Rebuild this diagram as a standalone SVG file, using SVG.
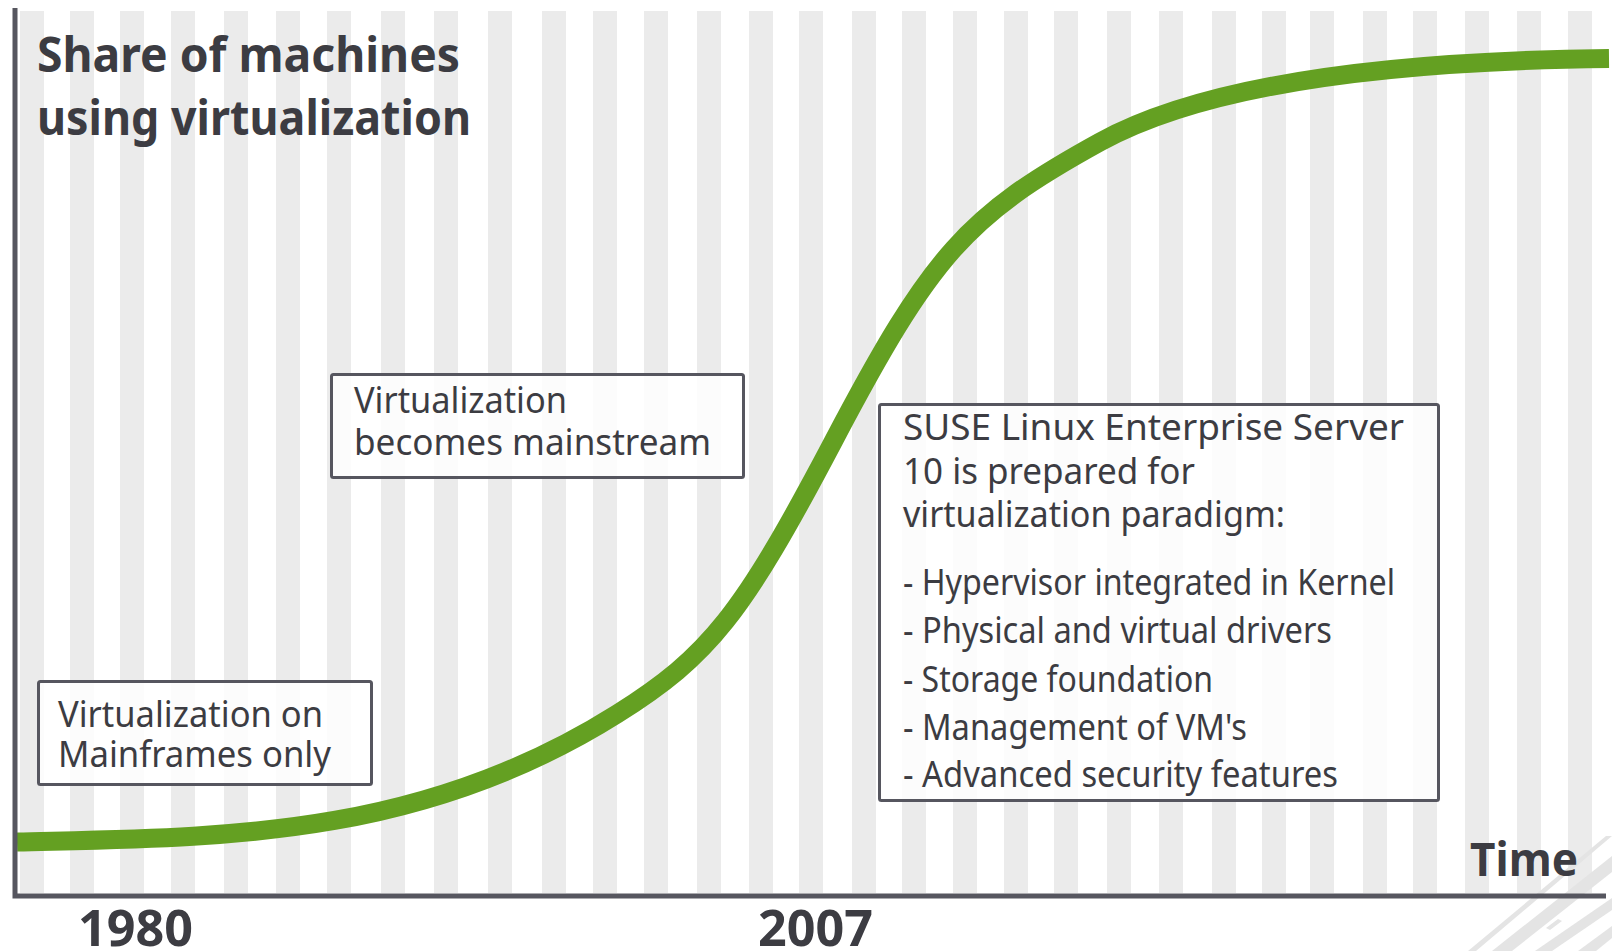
<svg xmlns="http://www.w3.org/2000/svg" width="1612" height="951" viewBox="0 0 1612 951">
<style>
.stripe{fill:#ebebeb}
.axis{stroke:#56565f;stroke-width:5;fill:none}
.box{fill:#ffffff;fill-opacity:0.82;stroke:#56565f;stroke-width:3}
.t{font-family:"Noto Sans","Open Sans","DejaVu Sans",sans-serif;fill:#3c3c42}
.reg{font-size:37px}
.bold{font-weight:bold}
.wm{fill:#e4e4e4}
</style>
<rect width="1612" height="951" fill="#ffffff"/>
<g id="stripes">
<rect class="stripe" x="20" y="11" width="24" height="882"/>
<rect class="stripe" x="70" y="11" width="24" height="882"/>
<rect class="stripe" x="120" y="11" width="24" height="882"/>
<rect class="stripe" x="171" y="11" width="24" height="882"/>
<rect class="stripe" x="224" y="11" width="24" height="882"/>
<rect class="stripe" x="276" y="11" width="24" height="882"/>
<rect class="stripe" x="327" y="11" width="24" height="882"/>
<rect class="stripe" x="381" y="11" width="24" height="882"/>
<rect class="stripe" x="434" y="11" width="24" height="882"/>
<rect class="stripe" x="488" y="11" width="24" height="882"/>
<rect class="stripe" x="542" y="11" width="24" height="882"/>
<rect class="stripe" x="593" y="11" width="24" height="882"/>
<rect class="stripe" x="644" y="11" width="24" height="882"/>
<rect class="stripe" x="697" y="11" width="24" height="882"/>
<rect class="stripe" x="749" y="11" width="24" height="882"/>
<rect class="stripe" x="799" y="11" width="24" height="882"/>
<rect class="stripe" x="852" y="11" width="24" height="882"/>
<rect class="stripe" x="902" y="11" width="24" height="882"/>
<rect class="stripe" x="953" y="11" width="24" height="882"/>
<rect class="stripe" x="1004" y="11" width="24" height="882"/>
<rect class="stripe" x="1054" y="11" width="24" height="882"/>
<rect class="stripe" x="1107" y="11" width="24" height="882"/>
<rect class="stripe" x="1159" y="11" width="24" height="882"/>
<rect class="stripe" x="1212" y="11" width="24" height="882"/>
<rect class="stripe" x="1262" y="11" width="24" height="882"/>
<rect class="stripe" x="1310" y="11" width="24" height="882"/>
<rect class="stripe" x="1363" y="11" width="24" height="882"/>
<rect class="stripe" x="1413" y="11" width="24" height="882"/>
<rect class="stripe" x="1465" y="11" width="24" height="882"/>
<rect class="stripe" x="1517" y="11" width="24" height="882"/>
<rect class="stripe" x="1568" y="11" width="24" height="882"/>
</g>
<g id="watermark">
<polygon class="wm" points="1468,951 1476,951 1612,836 1606,836"/>
<polygon class="wm" points="1492,951 1512,951 1612,872 1612,856"/>
<polygon class="wm" points="1535,951 1552,951 1612,910 1612,898"/>
<polygon class="wm" points="1578,951 1596,951 1612,938 1612,926"/>
<polygon class="wm" points="1546,928 1550,930 1562,921 1558,919"/>
</g>
<g id="connectors">
<path id="curve" d="M17,842 C217,837 417,840 617,714 C709.7,655.6 742,614.8 833,442 C931.7,254.5 966.4,215.5 1100,142 C1196.7,88.8 1366.3,61 1609,58.5" fill="none" stroke="#64a022" stroke-width="19"/>
</g>
<g id="axes">
<path class="axis" d="M15,8 L15,896 L1606,896"/>
</g>
<g id="title">
<text class="t bold" x="37" y="72" font-size="48" textLength="423" lengthAdjust="spacingAndGlyphs">Share of machines</text>
<text class="t bold" x="37" y="135" font-size="48" textLength="434" lengthAdjust="spacingAndGlyphs">using virtualization</text>
</g>
<g id="axis-labels">
<text class="t bold" x="78" y="946" font-size="50" textLength="115" lengthAdjust="spacingAndGlyphs">1980</text>
<text class="t bold" x="758" y="946" font-size="50" textLength="115" lengthAdjust="spacingAndGlyphs">2007</text>
<text class="t bold" x="1470" y="876" font-size="46" textLength="108" lengthAdjust="spacingAndGlyphs">Time</text>
</g>
<g id="box-mainframes">
<rect class="box" x="38.5" y="681.5" width="333" height="103" rx="2"/>
<text class="t reg" x="58" y="727" textLength="265" lengthAdjust="spacingAndGlyphs">Virtualization on</text>
<text class="t reg" x="58" y="767" textLength="273" lengthAdjust="spacingAndGlyphs">Mainframes only</text>
</g>
<g id="box-mainstream">
<rect class="box" x="331.5" y="374.5" width="412" height="103" rx="2"/>
<text class="t reg" x="354" y="413" textLength="213" lengthAdjust="spacingAndGlyphs">Virtualization</text>
<text class="t reg" x="354" y="455" textLength="357" lengthAdjust="spacingAndGlyphs">becomes mainstream</text>
</g>
<g id="box-suse">
<rect class="box" x="879.5" y="404.5" width="559" height="396" rx="2"/>
<text class="t reg" x="903" y="440" textLength="501" lengthAdjust="spacingAndGlyphs">SUSE Linux Enterprise Server</text>
<text class="t reg" x="903" y="484" textLength="292" lengthAdjust="spacingAndGlyphs">10 is prepared for</text>
<text class="t reg" x="903" y="527" textLength="382" lengthAdjust="spacingAndGlyphs">virtualization paradigm:</text>
<text class="t reg" x="903" y="595" textLength="492" lengthAdjust="spacingAndGlyphs">- Hypervisor integrated in Kernel</text>
<text class="t reg" x="903" y="643" textLength="429" lengthAdjust="spacingAndGlyphs">- Physical and virtual drivers</text>
<text class="t reg" x="903" y="692" textLength="310" lengthAdjust="spacingAndGlyphs">- Storage foundation</text>
<text class="t reg" x="903" y="740" textLength="344" lengthAdjust="spacingAndGlyphs">- Management of VM's</text>
<text class="t reg" x="903" y="787" textLength="435" lengthAdjust="spacingAndGlyphs">- Advanced security features</text>
</g>
</svg>
